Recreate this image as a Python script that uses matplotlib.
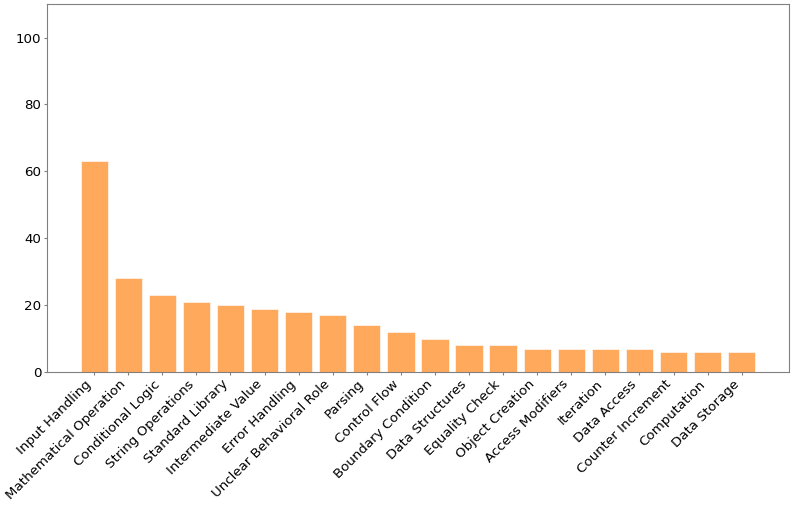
import matplotlib
matplotlib.use('Agg')
import matplotlib.pyplot as plt

categorias = ['Input Handling', 'Mathematical Operation', 'Conditional Logic', 'String Operations',
              'Standard Library', 'Intermediate Value', 'Error Handling', 'Unclear Behavioral Role',
              'Parsing', 'Control Flow', 'Boundary Condition', 'Data Structures', 'Equality Check',
              'Object Creation', 'Access Modifiers', 'Iteration', 'Data Access', 'Counter Increment',
              'Computation', 'Data Storage']
conteos = [63, 28, 23, 21, 20, 19, 18, 17, 14, 12, 10, 8, 8, 7, 7, 7, 7, 6, 6, 6]

fig = plt.figure(figsize=(7.93, 5.05), dpi=100)
ax = fig.add_axes([0.059, 0.263, 0.936, 0.729])

ax.bar(range(len(categorias)), conteos, width=0.8, color='#ff7f0e', alpha=0.67,
       edgecolor='white', linewidth=0.6)

ax.set_ylim(0, 110)
ax.set_xticks(range(len(categorias)))
ax.set_xticklabels(categorias, rotation=45, ha='right', fontsize=9.6)
ax.tick_params(axis='y', labelsize=9.6)
ax.tick_params(colors='#808080', labelcolor='black', length=2.5, pad=1.5)
for s in ax.spines.values():
    s.set_color('#808080')

fig.savefig('out.png', dpi=100)
